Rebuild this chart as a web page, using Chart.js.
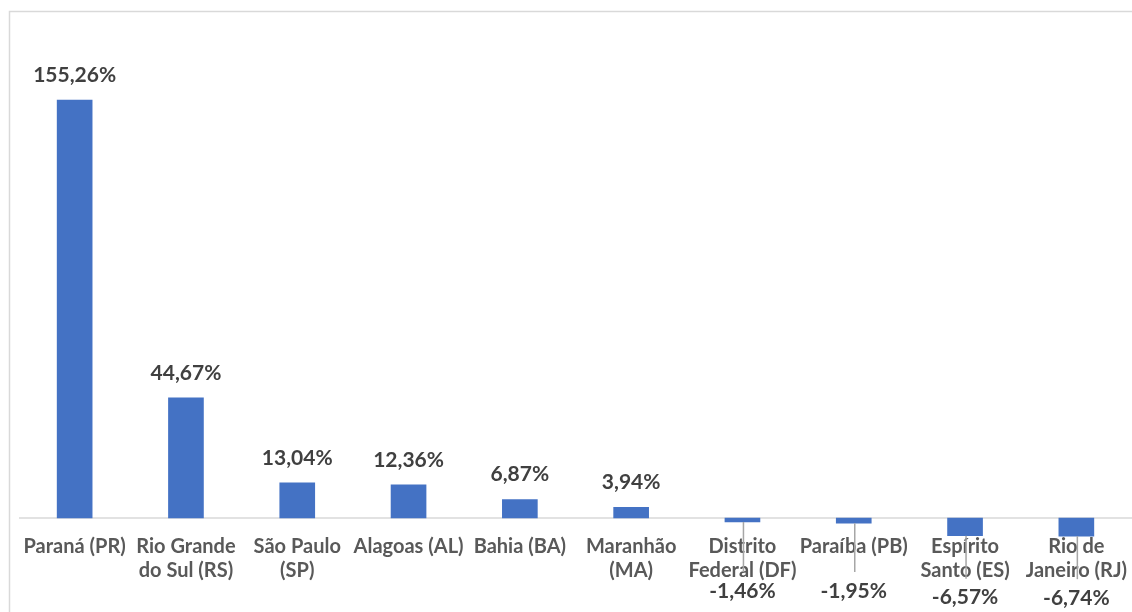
<!DOCTYPE html>
<html>
<head>
<meta charset="utf-8">
<script src="https://cdn.jsdelivr.net/npm/chart.js@4.4.0/dist/chart.umd.min.js"></script>
<style>
  html, body { margin: 0; padding: 0; background: #ffffff; }
  #wrap { width: 1132px; height: 612px; position: relative; }
</style>
</head>
<body>
<div id="wrap"><canvas id="chart"></canvas></div>
<script>
// estados e variação (%)
const states = [
    'Paraná (PR)',
    ['Rio Grande', 'do Sul (RS)'],
    ['São Paulo', '(SP)'],
    'Alagoas (AL)',
    'Bahia (BA)',
    ['Maranhão', '(MA)'],
    ['Distrito', 'Federal (DF)'],
    'Paraíba (PB)',
    ['Espírito', 'Santo (ES)'],
    ['Rio de', 'Janeiro (RJ)']
];
const variation = [155.26, 44.67, 13.04, 12.36, 6.87, 3.94, -1.46, -1.95, -6.57, -6.74];

const colors = {
    bar: '#4472C4',
    label: '#404040',
    axisText: '#595959',
    axisLine: '#d9d9d9',
    leader: '#a6a6a6',
    frame: '#d9d9d9'
};
const FONT = 'Lato, "Open Sans", sans-serif';

function fmt(v) {
    return v.toFixed(2).replace('.', ',') + '%';
}

// frame, zero line and data labels (Excel-like)
const excelLook = {
    id: 'excelLook',
    beforeDraw(chart) {
        const c = chart.ctx;
        c.save();
        c.fillStyle = '#ffffff';
        c.fillRect(0, 0, chart.width, chart.height);
        c.strokeStyle = colors.frame;
        c.lineWidth = 1.5;
        c.strokeRect(9.5, 11.5, chart.width + 20, chart.height + 20);
        c.restore();
    },
    beforeDatasetsDraw(chart) {
        const c = chart.ctx;
        const y0 = chart.scales.y.getPixelForValue(0);
        c.save();
        c.strokeStyle = colors.axisLine;
        c.lineWidth = 1.5;
        c.beginPath();
        c.moveTo(chart.chartArea.left, y0);
        c.lineTo(chart.chartArea.right, y0);
        c.stroke();
        c.restore();
    },
    afterDatasetsDraw(chart) {
        const c = chart.ctx;
        const meta = chart.getDatasetMeta(0);
        c.save();
        c.font = 'bold 21px ' + FONT;
        c.textAlign = 'center';
        c.textBaseline = 'middle';
        meta.data.forEach((bar, i) => {
            const v = variation[i];
            if (v >= 0) {
                c.fillStyle = colors.label;
                c.fillText(fmt(v), bar.x, bar.y - 25);
            } else {
                // label pushed below the axis text, with a leader line
                const ly = Math.max(bar.y + 62, 591);
                c.strokeStyle = colors.leader;
                c.lineWidth = 1.5;
                c.beginPath();
                c.moveTo(bar.x + 1, bar.y);
                c.lineTo(bar.x + 1, ly - 19);
                c.stroke();
                c.fillStyle = colors.label;
                c.fillText(fmt(v), bar.x, ly);
            }
        });
        c.restore();
    }
};

new Chart(document.getElementById('chart'), {
    type: 'bar',
    data: {
        labels: states,
        datasets: [{
            data: variation,
            backgroundColor: colors.bar,
            borderWidth: 0,
            barThickness: 35,
            clip: false
        }]
    },
    options: {
        responsive: true,
        maintainAspectRatio: false,
        animation: false,
        devicePixelRatio: 1,
        layout: { padding: { top: 60, left: 19, right: 0, bottom: 0 } },
        plugins: {
            legend: { display: false },
            tooltip: { enabled: false }
        },
        scales: {
            x: {
                grid: { display: false, drawTicks: false },
                border: { display: false },
                ticks: {
                    color: colors.axisText,
                    font: { family: FONT, size: 20, weight: 'bold', lineHeight: 1.2 },
                    padding: 0,
                    maxRotation: 0,
                    autoSkip: false
                },
                afterFit(scale) { scale.height = 77; }
            },
            y: {
                display: false,
                min: -6.3,
                max: 170.1
            }
        }
    },
    plugins: [excelLook]
});
</script>
</body>
</html>
